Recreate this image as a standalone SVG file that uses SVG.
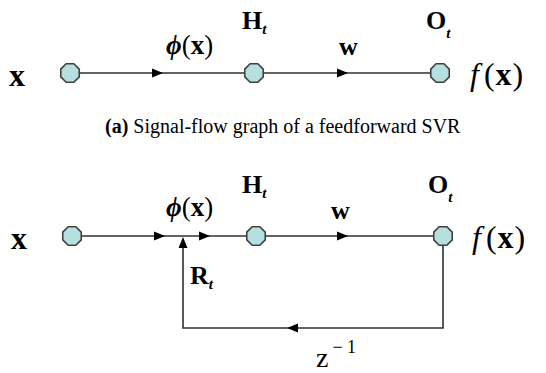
<svg xmlns="http://www.w3.org/2000/svg" width="546" height="373" viewBox="0 0 546 373">
<style>
.ln{stroke:#303030;stroke-width:1.6;fill:none}
.nd{fill:#b6e0e0;stroke:#404040;stroke-width:1.6}
.ah{fill:#000}
.t{font-family:"Liberation Serif","DejaVu Serif","Times New Roman",serif;fill:#000}
.b{font-weight:bold}
.i{font-style:italic}
</style>
<defs>
<polygon id="oct" points="9.24,3.83 3.83,9.24 -3.83,9.24 -9.24,3.83 -9.24,-3.83 -3.83,-9.24 3.83,-9.24 9.24,-3.83"/>
<path id="arr" d="M0,0 L-11,-4.5 L-11,4.5 Z"/>
</defs>
<rect width="546" height="373" fill="#fff"/>
<g id="connectors">
<line class="ln" x1="80" y1="73" x2="244" y2="73"/>
<line class="ln" x1="264" y1="73" x2="430" y2="73"/>
<use href="#arr" class="ah" transform="translate(163,73)"/>
<use href="#arr" class="ah" transform="translate(348,73)"/>
<line class="ln" x1="82" y1="236" x2="246" y2="236"/>
<line class="ln" x1="266" y1="236" x2="433" y2="236"/>
<use href="#arr" class="ah" transform="translate(165,236)"/>
<use href="#arr" class="ah" transform="translate(210,236)"/>
<use href="#arr" class="ah" transform="translate(348,236)"/>
<polyline class="ln" points="443,246 443,328 183,328 183,240"/>
<use href="#arr" class="ah" transform="translate(183,237) rotate(-90)"/>
<use href="#arr" class="ah" transform="translate(287,328) rotate(180)"/>
</g>
<g id="n1"><use href="#oct" class="nd" transform="translate(70,73)"/></g>
<g id="n2"><use href="#oct" class="nd" transform="translate(254,73)"/></g>
<g id="n3"><use href="#oct" class="nd" transform="translate(440,73)"/></g>
<g id="n4"><use href="#oct" class="nd" transform="translate(72,236)"/></g>
<g id="n5"><use href="#oct" class="nd" transform="translate(256,236)"/></g>
<g id="n6"><use href="#oct" class="nd" transform="translate(443,236)"/></g>
<g id="labels">
<text class="t b" x="9" y="86" font-size="32">x</text>
<text class="t" x="166" y="54" font-size="27"><tspan class="i b">ϕ</tspan><tspan>(</tspan><tspan class="b">x</tspan><tspan>)</tspan></text>
<text class="t b" x="242" y="29" font-size="26">H<tspan class="i" font-size="15" dy="5">t</tspan></text>
<text class="t b" x="339" y="55" font-size="26">w</text>
<text class="t b" x="426" y="29" font-size="26">O<tspan class="i" font-size="15" dy="9">t</tspan></text>
<text class="t" x="470" y="85" font-size="32"><tspan class="i">f</tspan><tspan dx="5">(</tspan><tspan class="b" dx="1">x</tspan><tspan dx="1">)</tspan></text>
<text class="t" x="105" y="133" font-size="20"><tspan class="b">(a)</tspan> Signal-flow graph of a feedforward SVR</text>
<text class="t b" x="11" y="249" font-size="32">x</text>
<text class="t" x="166" y="216" font-size="27"><tspan class="i b">ϕ</tspan><tspan>(</tspan><tspan class="b">x</tspan><tspan>)</tspan></text>
<text class="t b" x="242" y="193" font-size="26">H<tspan class="i" font-size="15" dy="5">t</tspan></text>
<text class="t b" x="331" y="219" font-size="26">w</text>
<text class="t b" x="428" y="193" font-size="26">O<tspan class="i" font-size="15" dy="9">t</tspan></text>
<text class="t" x="472" y="248" font-size="32"><tspan class="i">f</tspan><tspan dx="5">(</tspan><tspan class="b" dx="1">x</tspan><tspan dx="1">)</tspan></text>
<text class="t b" x="190" y="284" font-size="26">R<tspan class="i" font-size="15" dy="5">t</tspan></text>
<text class="t" x="316" y="367" font-size="28">z<tspan font-size="18" dx="4" dy="-14">− 1</tspan></text>
</g>
</svg>
